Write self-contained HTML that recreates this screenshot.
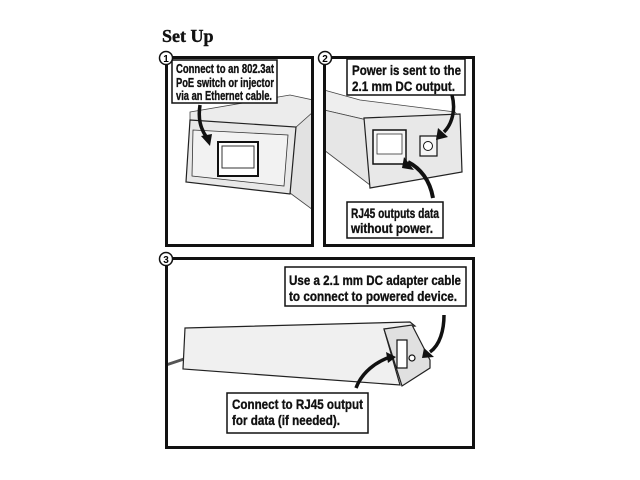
<!DOCTYPE html>
<html><head><meta charset="utf-8"><style>
html,body{margin:0;padding:0;background:#fff;}
svg{display:block}
.t{font-family:"Liberation Sans Narrow","Liberation Sans",sans-serif;font-weight:bold;fill:#111;stroke:#111;stroke-width:0.35}
</style></head><body>
<svg width="640" height="480" viewBox="0 0 640 480" xmlns="http://www.w3.org/2000/svg">
<rect width="640" height="480" fill="#fff"/>
<text x="162" y="42" font-family="Liberation Serif,serif" font-weight="bold" font-size="18" fill="#111" stroke="#111" stroke-width="0.4">Set Up</text>

<!-- Panel 1 -->
<g>
<polygon points="190,112 290,95 313,100 313,130 295,128 190,122" fill="#ececec" stroke="#444" stroke-width="0.8"/>
<polygon points="295,128 313,112 313,210 290,193" fill="#e2e2e2" stroke="#444" stroke-width="0.8"/>
<polygon points="190,120 296,127 290,194 186,182" fill="#e8e8e8" stroke="#222" stroke-width="1.2"/>
<polygon points="193,130 288,135 284,186 192,176" fill="#f2f2f2" stroke="#333" stroke-width="0.8"/>
<rect x="218" y="142" width="40" height="34" fill="#fff" stroke="#111" stroke-width="2"/>
<rect x="222" y="146" width="32" height="22" fill="#fff" stroke="#333" stroke-width="1"/>
<path d="M200,105 C198,118 200,128 207,138" stroke="#111" stroke-width="3.5" fill="none"/>
<polygon points="201,136 212,134 210,146" fill="#111"/>
<rect x="166.5" y="57.5" width="146" height="188" fill="none" stroke="#111" stroke-width="3"/>
<rect x="172" y="60" width="105" height="43" fill="#fff" stroke="#111" stroke-width="1.5"/>
<text class="t" font-size="12.5" x="176" y="73" textLength="98" lengthAdjust="spacingAndGlyphs">Connect to an 802.3at</text>
<text class="t" font-size="12.5" x="176" y="87" textLength="98" lengthAdjust="spacingAndGlyphs">PoE switch or injector</text>
<text class="t" font-size="12.5" x="176" y="100" textLength="96" lengthAdjust="spacingAndGlyphs">via an Ethernet cable.</text>
<circle cx="166" cy="58" r="6.5" fill="#fff" stroke="#111" stroke-width="1.5"/>
<text x="166" y="62" text-anchor="middle" font-family="Liberation Sans,sans-serif" font-weight="bold" font-size="10">1</text>
</g>

<!-- Panel 2 -->
<g>
<polygon points="324,90 360,100 455,112 460,118 367,120 324,110" fill="#eeeeee" stroke="#444" stroke-width="0.8"/>
<polygon points="324,110 367,120 370,185 324,150" fill="#e6e6e6" stroke="#444" stroke-width="0.8"/>
<polygon points="364,118 460,114 462,172 370,188" fill="#e8e8e8" stroke="#222" stroke-width="1.2"/>
<rect x="373" y="130" width="33" height="34" fill="#f6f6f6" stroke="#111" stroke-width="1.5"/>
<rect x="377" y="134" width="25" height="20" fill="#fff" stroke="#333" stroke-width="0.8"/>
<rect x="420" y="136" width="17" height="20" fill="#f4f4f4" stroke="#111" stroke-width="1.2"/>
<circle cx="428" cy="146" r="4.5" fill="#fff" stroke="#111"/>
<path d="M452,95 C456,110 452,124 444,132" stroke="#111" stroke-width="3.5" fill="none"/>
<polygon points="438,128 448,137 436,140" fill="#111"/>
<path d="M433,198 C430,180 420,168 408,162" stroke="#111" stroke-width="4" fill="none"/>
<polygon points="404,157 414,170 402,168" fill="#111"/>
<rect x="324.5" y="57.5" width="149" height="188" fill="none" stroke="#111" stroke-width="3"/>
<rect x="347" y="59" width="118" height="36" fill="#fff" stroke="#111" stroke-width="1.5"/>
<text class="t" font-size="14" x="352" y="75" textLength="109" lengthAdjust="spacingAndGlyphs">Power is sent to the</text>
<text class="t" font-size="14" x="352" y="91" textLength="103" lengthAdjust="spacingAndGlyphs">2.1 mm DC output.</text>
<rect x="347" y="202" width="96" height="36" fill="#fff" stroke="#111" stroke-width="1.5"/>
<text class="t" font-size="14" x="351" y="218" textLength="88" lengthAdjust="spacingAndGlyphs">RJ45 outputs data</text>
<text class="t" font-size="14" x="351" y="233" textLength="82" lengthAdjust="spacingAndGlyphs">without power.</text>
<circle cx="325" cy="58" r="6.5" fill="#fff" stroke="#111" stroke-width="1.5"/>
<text x="325" y="62" text-anchor="middle" font-family="Liberation Sans,sans-serif" font-weight="bold" font-size="10">2</text>
</g>

<!-- Panel 3 -->
<g>
<path d="M166,365 L184,359" stroke="#555" stroke-width="3"/>
<polygon points="185,328 410,322 415,326 384,329 400,385 183,369" fill="#f0f0f0" stroke="#222" stroke-width="1.2"/>
<polygon points="384,329 412,325 430,360 430,368 402,386" fill="#e0e0e0" stroke="#222" stroke-width="1.2"/>
<rect x="397" y="340" width="10" height="28" fill="#fff" stroke="#111" stroke-width="1.2"/>
<circle cx="412" cy="358" r="3" fill="#fff" stroke="#111" stroke-width="1.2"/>
<path d="M444,315 C444,330 440,345 430,352" stroke="#111" stroke-width="3.5" fill="none"/>
<polygon points="424,348 434,357 422,358" fill="#111"/>
<path d="M356,388 C362,372 376,362 390,357" stroke="#111" stroke-width="3.5" fill="none"/>
<polygon points="386,352 396,357 388,363" fill="#111"/>
<rect x="166.5" y="258.5" width="307" height="189" fill="none" stroke="#111" stroke-width="3"/>
<rect x="285" y="267" width="181" height="39" fill="#fff" stroke="#111" stroke-width="1.5"/>
<text class="t" font-size="14" x="289" y="285" textLength="172" lengthAdjust="spacingAndGlyphs">Use a 2.1 mm DC adapter cable</text>
<text class="t" font-size="14" x="289" y="301" textLength="168" lengthAdjust="spacingAndGlyphs">to connect to powered device.</text>
<rect x="227" y="393" width="141" height="40" fill="#fff" stroke="#111" stroke-width="1.5"/>
<text class="t" font-size="14" x="232" y="409" textLength="131" lengthAdjust="spacingAndGlyphs">Connect to RJ45 output</text>
<text class="t" font-size="14" x="232" y="425" textLength="108" lengthAdjust="spacingAndGlyphs">for data (if needed).</text>
<circle cx="166" cy="259" r="6.5" fill="#fff" stroke="#111" stroke-width="1.5"/>
<text x="166" y="263" text-anchor="middle" font-family="Liberation Sans,sans-serif" font-weight="bold" font-size="10">3</text>
</g>
</svg>
</body></html>
